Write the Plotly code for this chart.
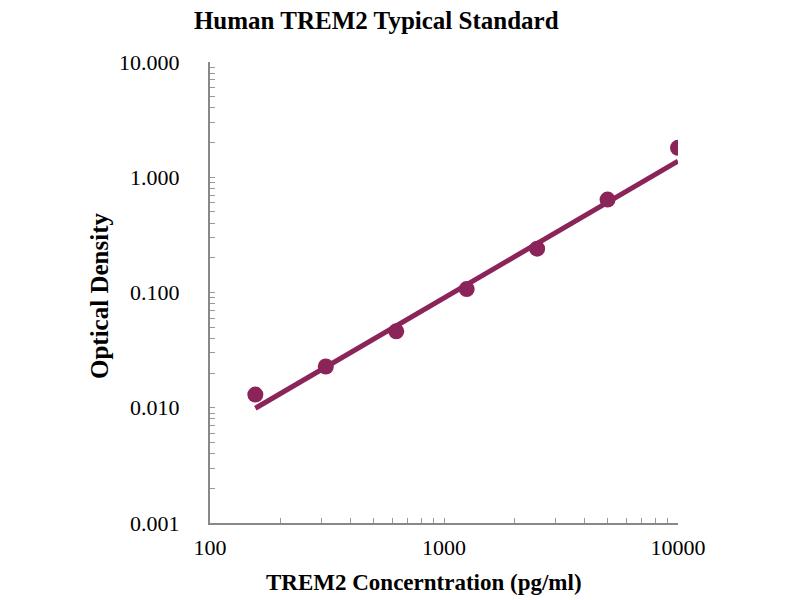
import plotly.graph_objects as go

# standard concentrations (pg/ml) and measured OD
conc = [156.25, 312.5, 625, 1250, 2500, 5000, 10000]
od = [0.013, 0.0228, 0.046, 0.107, 0.24, 0.64, 1.8]

# fitted standard curve, read at its two ends
fit_conc = [156.25, 10000]
fit_od = [0.0099, 1.38]

# axis decades and their labels
x_decades = [100, 1000, 10000]
x_labels = ["100", "1000", "10000"]
y_decades = [0.001, 0.01, 0.1, 1, 10]
y_labels = ["0.001", "0.010", "0.100", "1.000", "10.000"]

maroon = "rgb(139,36,88)"
serif = "Liberation Serif, Times New Roman, serif"


def log_ticks(decades, labels):
  # 1..9 steps in every decade, text only on the decade itself
  vals, text = [], []
  for d, lab in zip(decades, labels):
    vals.append(d)
    text.append(lab)
    if d != decades[-1]:
      for k in range(2, 10):
        vals.append(d * k)
        text.append("")
  return vals, text


xv, xt = log_ticks(x_decades, x_labels)
yv, yt = log_ticks(y_decades, y_labels)

fig = go.Figure()
fig.add_trace(go.Scatter(x=fit_conc, y=fit_od, mode="lines",
                         line=dict(color=maroon, width=5), hoverinfo="skip"))
fig.add_trace(go.Scatter(x=conc, y=od, mode="markers",
                         marker=dict(color=maroon, size=16)))

# page has an 8px body margin, so the figure is sized to fit inside the window
fig.update_layout(
  width=792, height=592,
  paper_bgcolor="white", plot_bgcolor="white",
  showlegend=False,
  margin=dict(l=202, r=122, t=54, b=77),
  font=dict(family=serif, color="black", size=22),
  title=dict(text="<b>Human TREM2 Typical Standard</b>", x=0.465, xanchor="center",
             y=1.0, yanchor="top", pad=dict(t=3), font=dict(size=25)),
  annotations=[
    dict(text="<b>TREM2 Concerntration (pg/ml)</b>", xref="paper", yref="paper",
         x=(416 - 202) / 468, y=-(574 - 515) / 461, xanchor="center", yanchor="middle",
         showarrow=False, font=dict(size=23)),
    dict(text="<b>Optical Density</b>", xref="paper", yref="paper",
         x=-(202 - 91) / 468, y=(515 - 288) / 461, xanchor="center", yanchor="middle",
         textangle=-90, showarrow=False, font=dict(size=25)),
  ],
)

fig.update_xaxes(
  type="log", range=[2, 4], automargin=False,
  tickvals=xv, ticktext=xt,
  ticks="inside", ticklen=5, tickcolor="#999999", ticklabelstandoff=4,
  showline=True, linecolor="#888888", linewidth=2,
  showgrid=False, zeroline=False,
)
fig.update_yaxes(
  type="log", range=[-3, 1], automargin=False,
  tickvals=yv, ticktext=yt,
  ticks="inside", ticklen=5, tickcolor="#999999", ticklabelstandoff=24,
  showline=True, linecolor="#888888", linewidth=2,
  showgrid=False, zeroline=False,
)

fig.write_html("out.html")
